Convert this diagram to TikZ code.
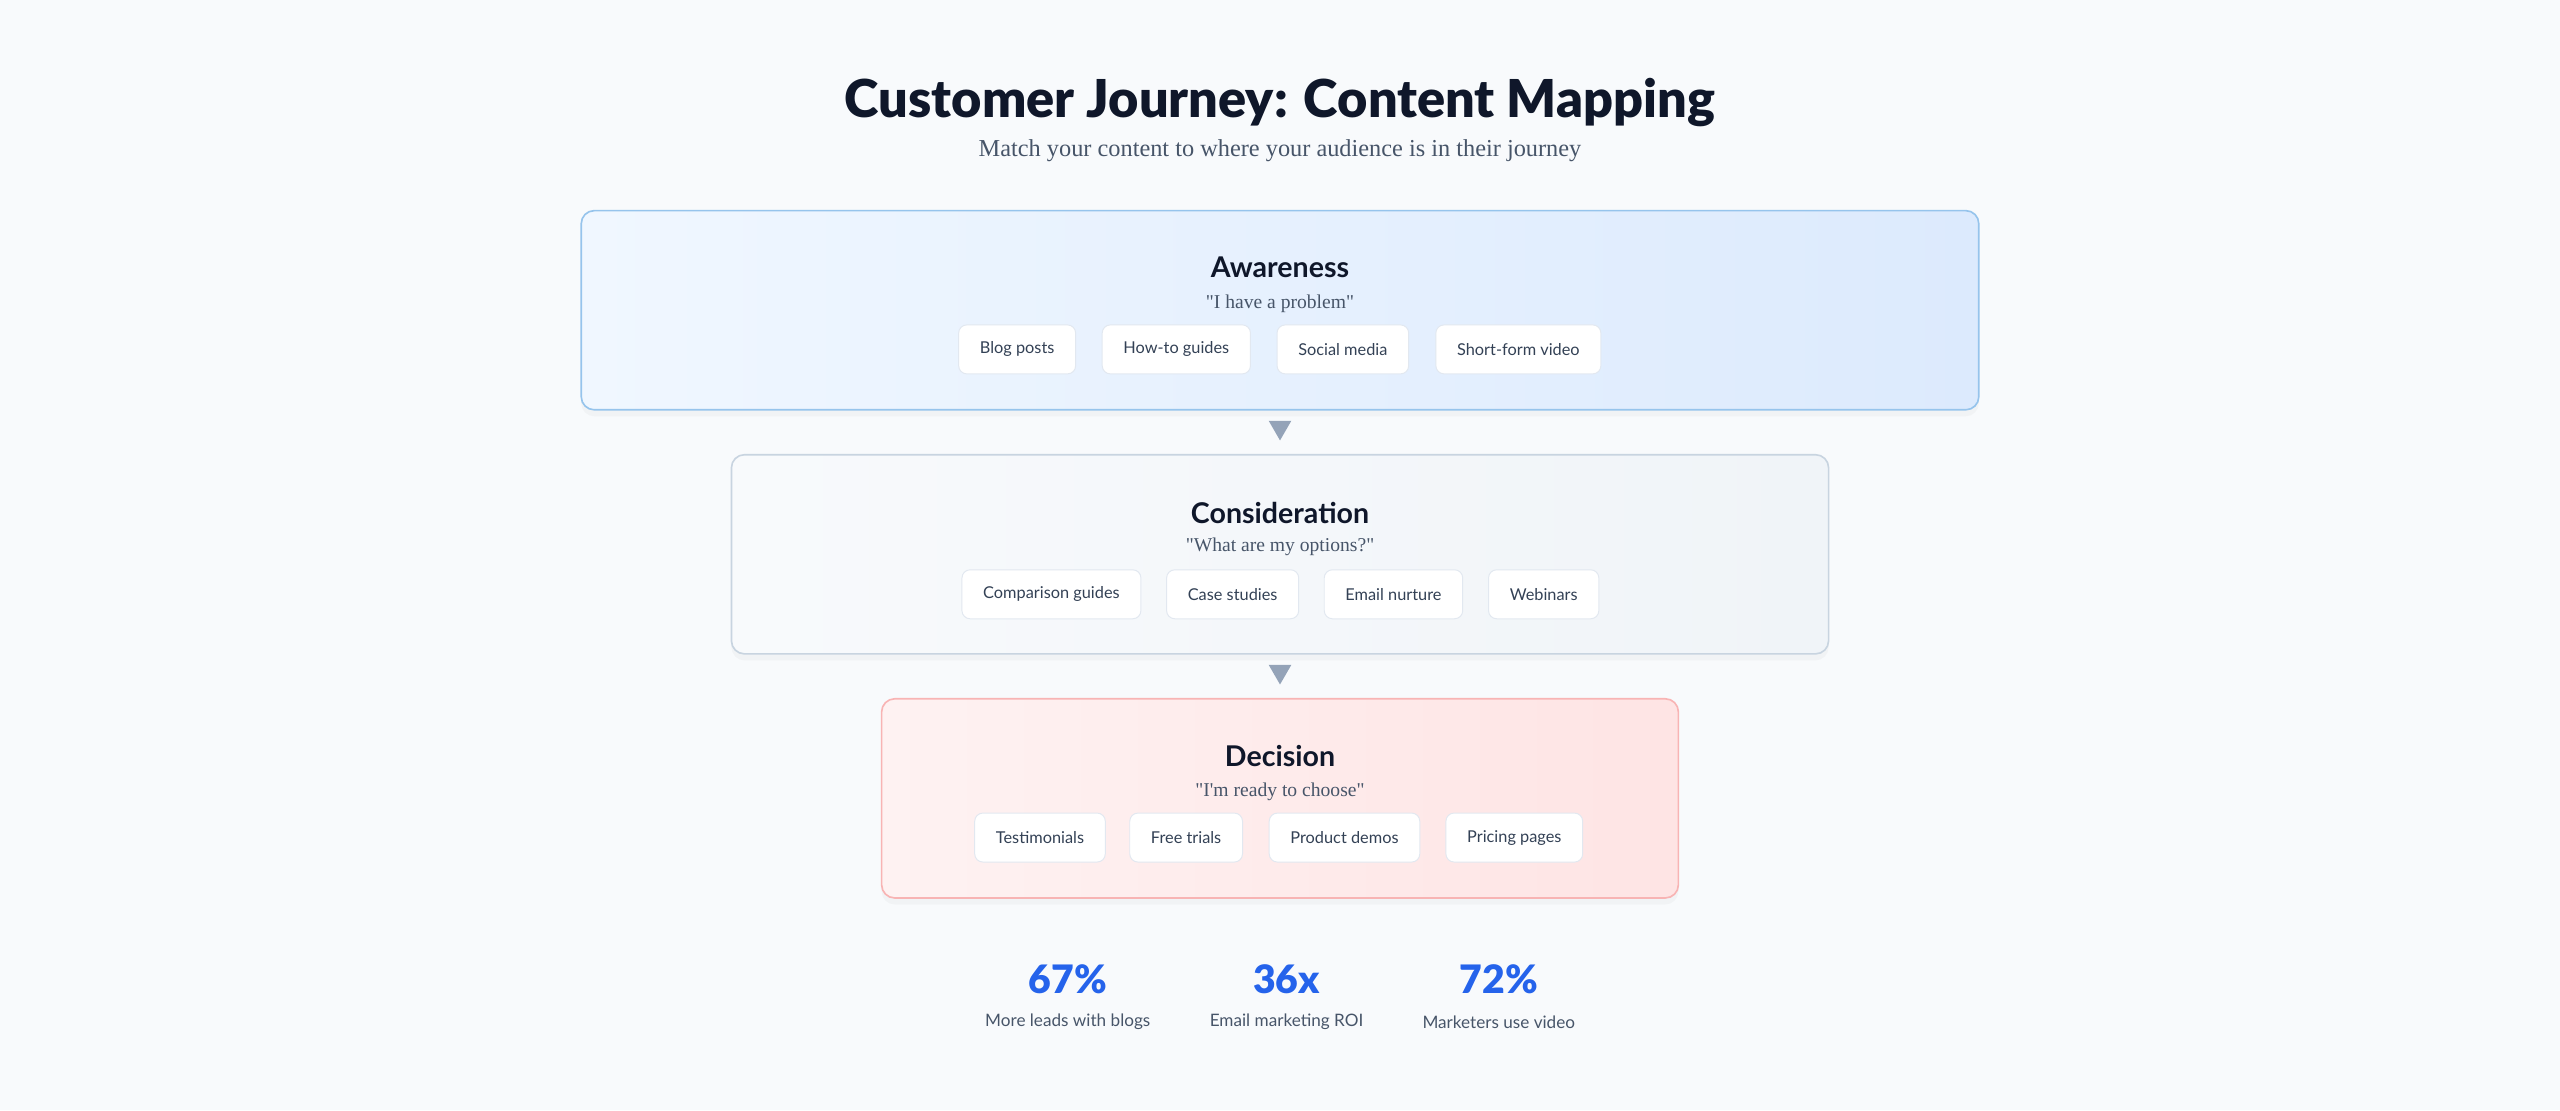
\documentclass[tikz,border=0pt]{standalone}
\usepackage{fontspec}
\setmainfont{Liberation Serif}
\setsansfont{Lato}
\newfontfamily\heavyfont{Lato Black}
\usetikzlibrary{positioning,calc,shapes.geometric,shadows}
\definecolor{bg_gray}{RGB}{248,250,252}
\definecolor{title_navy}{RGB}{15,23,42}
\definecolor{text_gray}{RGB}{71,85,105}
\definecolor{chip_text}{RGB}{51,65,85}
\definecolor{chip_line}{RGB}{226,232,240}
\definecolor{aware_light}{RGB}{240,247,255}
\definecolor{aware_dark}{RGB}{220,234,253}
\definecolor{aware_line}{RGB}{150,196,236}
\definecolor{consid_light}{RGB}{248,250,252}
\definecolor{consid_dark}{RGB}{240,244,248}
\definecolor{consid_line}{RGB}{200,212,224}
\definecolor{decis_light}{RGB}{254,242,242}
\definecolor{decis_dark}{RGB}{254,228,228}
\definecolor{decis_line}{RGB}{248,180,180}
\definecolor{arrow_gray}{RGB}{148,163,184}
\definecolor{stat_blue}{RGB}{37,99,235}

\begin{document}
\begin{tikzpicture}[x=1pt,y=1pt]
    \tikzstyle{stage}=[draw, rounded corners=8pt, line width=1pt, minimum height=122pt, inner sep=0pt, drop shadow={opacity=0.05, shadow xshift=0pt, shadow yshift=-4pt}]
    \tikzstyle{stagetitle}=[font=\sffamily\bfseries\fontsize{17.5}{20}\selectfont, text=title_navy, inner sep=0pt]
    \tikzstyle{saying}=[font=\fontsize{12}{14}\selectfont, text=text_gray, inner sep=0pt]
    \tikzstyle{chip}=[draw=chip_line, line width=0.6pt, fill=white, rounded corners=5pt, minimum height=30pt, inner xsep=13pt, font=\sffamily\fontsize{10}{12}\selectfont, text=chip_text]
    \tikzstyle{pointer}=[fill=arrow_gray, regular polygon, regular polygon sides=3, shape border rotate=180, minimum size=16pt, inner sep=0pt]
    \tikzstyle{statnum}=[font=\heavyfont\fontsize{24}{28}\selectfont, text=stat_blue, inner sep=0pt]
    \tikzstyle{statlabel}=[font=\sffamily\fontsize{10.5}{13}\selectfont, text=text_gray, inner sep=0pt]

    % page
    \fill[bg_gray] (0,0) rectangle (1568,-680);
    \useasboundingbox (0,0) rectangle (1568,-680);

    % heading
    \node[font=\heavyfont\fontsize{32}{38}\selectfont, text=title_navy, inner sep=0pt] (title) at (784,-63) {Customer Journey: Content Mapping};
    \node[font=\fontsize{14.9}{17}\selectfont, text=text_gray, inner sep=0pt] (subtitle) at (784,-92) {Match your content to where your audience is in their journey};

    % stages
    \node[stage, draw=aware_line, left color=aware_light, right color=aware_dark, minimum width=856pt] (aware) at (784,-190) {};
    \node[stage, draw=consid_line, left color=consid_light, right color=consid_dark, minimum width=672pt] (consid) at (784,-339.5) {};
    \node[stage, draw=decis_line, left color=decis_light, right color=decis_dark, minimum width=488pt] (decis) at (784,-489) {};

    \node[pointer] (p1) at ($(aware.south)!0.5!(consid.north)+(0,3)$) {};
    \node[pointer] (p2) at ($(consid.south)!0.5!(decis.north)+(0,3)$) {};

    % awareness
    \node[stagetitle] (awarename) at (784,-164) {Awareness};
    \node[saying] (awarequote) at (784,-186) {\textquotedbl I have a problem\textquotedbl};
    \node[chip] (blog) at (623,-214) {Blog posts};
    \node[chip] (howto) at (720.5,-214) {How-to guides};
    \node[chip] (social) at (822.5,-214) {Social media};
    \node[chip] (short) at (930,-214) {Short-form video};

    % consideration
    \node[stagetitle] (considname) at (784,-314) {Consideration};
    \node[saying] (considquote) at (784,-335) {\textquotedbl What are my options?\textquotedbl};
    \node[chip] (compare) at (644,-364) {Comparison guides};
    \node[chip] (cases) at (755,-364) {Case studies};
    \node[chip] (email) at (853.5,-364) {Email nurture};
    \node[chip] (webinar) at (945.5,-364) {Webinars};

    % decision
    \node[stagetitle] (decisname) at (784,-463) {Decision};
    \node[saying] (decisquote) at (784,-485) {\textquotedbl I\textquotesingle m ready to choose\textquotedbl};
    \node[chip] (testim) at (637,-513) {Testimonials};
    \node[chip] (trials) at (726.5,-513) {Free trials};
    \node[chip] (demos) at (823.5,-513) {Product demos};
    \node[chip] (pricing) at (927.5,-513) {Pricing pages};

    % stats
    \node[statnum] (leads) at (654,-600) {67\%};
    \node[statlabel] (leadstext) at (654,-626) {More leads with blogs};
    \node[statnum] (roi) at (788,-600) {36x};
    \node[statlabel] (roitext) at (788,-626) {Email marketing ROI};
    \node[statnum] (video) at (918,-600) {72\%};
    \node[statlabel] (videotext) at (918,-626) {Marketers use video};
\end{tikzpicture}
\end{document}
